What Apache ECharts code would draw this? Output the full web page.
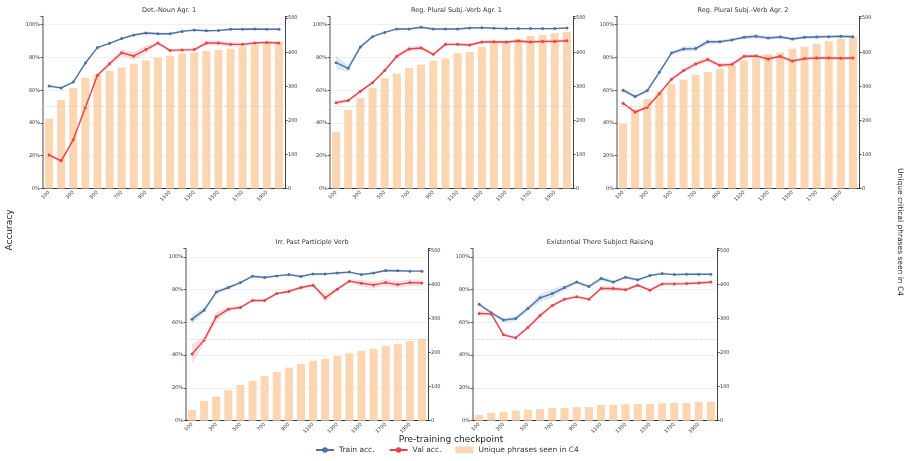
<!DOCTYPE html>
<html>
<head>
<meta charset="utf-8">
<script src="https://cdn.jsdelivr.net/npm/echarts@6/dist/echarts.min.js"></script>
<style>
    html, body { margin: 0; padding: 0; background: #fff; }
    #chart { width: 911px; height: 461px; }
</style>
</head>
<body>
<div id="chart"></div>
<script>
// checkpoints on the x axis
var checkpoints = ['100', '200', '300', '400', '500', '600', '700', '800', '900', '1000',
    '1100', '1200', '1300', '1400', '1500', '1600', '1700', '1800', '1900', '2000'];

var titles = ['Det.-Noun Agr. 1', 'Reg. Plural Subj.-Verb Agr. 1', 'Reg. Plural Subj.-Verb Agr. 2',
    'Irr. Past Participle Verb', 'Existential There Subject Raising'];

// train accuracy (%)
var train1 = [62.5, 61.4, 65, 76.6, 86, 88.6, 91.5, 93.7, 94.9, 94.5, 94.5, 95.9, 96.7, 96.3, 96.5, 97.2, 97.2, 97.4, 97.2, 97.2];
var train2 = [76.8, 73.4, 86.4, 92.7, 95.3, 97.4, 97.4, 98.4, 97.4, 97.4, 97.4, 98, 98.2, 97.8, 97.6, 97.6, 97.6, 97.6, 97.6, 98];
var train3 = [60, 56.1, 59.8, 70.9, 82.7, 85.2, 85.4, 89.6, 89.6, 90.7, 92.3, 92.9, 91.9, 92.5, 91.3, 92.3, 92.5, 92.7, 92.9, 92.7];
var train4 = [62, 67.5, 78.5, 81.3, 84.3, 88.2, 87.4, 88.4, 89.2, 88, 89.6, 89.6, 90.2, 90.7, 89.2, 90.2, 91.7, 91.5, 91.3, 91.3];
var train5 = [71.1, 65.9, 61.4, 62.4, 68.5, 75, 77.6, 81.3, 84.6, 81.9, 86.8, 84.6, 87.6, 86, 88.6, 89.8, 89.2, 89.4, 89.4, 89.4];

// val accuracy (%)
var val1 = [20.5, 16.9, 29.7, 49.4, 69.1, 76.2, 82.9, 80.9, 84.8, 88.8, 84.3, 84.6, 84.8, 88.8, 88.8, 88, 88, 88.8, 89.2, 88.8];
var val2 = [52.4, 53.7, 59.3, 64.6, 72, 80.7, 85.2, 85.8, 81.9, 88, 88, 87.6, 89.4, 89.6, 89.4, 90, 89.4, 89.8, 89.8, 90.2];
var val3 = [52, 46.7, 49.6, 57.9, 66.7, 72, 76, 78.7, 75.2, 75.8, 80.7, 80.9, 79.1, 80.7, 77.8, 79.3, 79.7, 79.7, 79.5, 79.7];
var val4 = [40.7, 49.2, 63.4, 68.1, 69.1, 73.4, 73.4, 77.6, 78.9, 81.3, 82.7, 75, 80.3, 85.2, 83.9, 82.9, 84.3, 83.1, 84.3, 84.1];
var val5 = [65.4, 65.2, 52.4, 50.6, 56.9, 64.2, 70.3, 74.2, 75.6, 74.2, 80.7, 80.7, 79.9, 82.7, 79.7, 83.5, 83.5, 83.7, 84.1, 84.6];

// half width of the shaded band around each line (%)
var trainSpread1 = [1, 0.6, 0.6, 0.6, 0.6, 0.6, 0.6, 0.6, 0.8, 0.8, 0.6, 0.6, 0.6, 0.6, 0.6, 0.6, 0.6, 0.6, 0.6, 0.6];
var trainSpread2 = [4, 2, 1, 0.6, 0.6, 0.6, 0.6, 0.6, 0.6, 0.6, 0.6, 0.6, 0.6, 0.6, 0.6, 0.6, 0.6, 0.6, 0.6, 0.6];
var trainSpread3 = [1.5, 1, 1, 1, 1, 1.5, 1.5, 1.5, 1, 1, 1, 1.5, 1, 1, 1, 1, 1, 1, 1, 1];
var trainSpread4 = [3, 1.5, 1, 1, 0.6, 0.6, 0.6, 0.6, 0.6, 0.6, 0.6, 0.6, 0.6, 0.6, 0.6, 0.6, 0.6, 0.6, 0.6, 0.6];
var trainSpread5 = [1, 1, 1.5, 1.5, 1.5, 2.5, 2.5, 1.5, 1, 1, 1.5, 1, 1, 1, 0.6, 0.6, 0.6, 0.6, 0.6, 0.6];
var valSpread1 = [1, 1, 1, 1, 1, 1.5, 2, 2.5, 2.5, 1, 1, 1, 1, 1.5, 1.5, 1.5, 1, 1, 1, 1];
var valSpread2 = [1.5, 1, 1, 1, 1, 1.5, 1.5, 1.5, 1, 1, 1, 1, 1, 1, 1, 1, 1, 1, 1, 1];
var valSpread3 = [1, 1, 1, 1, 1, 1.5, 1.5, 1.5, 1.5, 1.5, 1, 1.5, 1.5, 1, 1, 1, 1, 1, 1, 1];
var valSpread4 = [6, 2, 3, 1.5, 1, 1, 1, 1, 1, 1, 1, 2.5, 1, 1, 2, 2, 2, 2, 2, 2];
var valSpread5 = [2, 1, 1, 1, 1, 1.5, 1, 1, 1, 1, 1.5, 1.5, 1, 1, 1, 1, 1, 1, 1, 1];

// unique critical phrases seen in C4
var phrases1 = [205, 260, 295, 325, 335, 345, 355, 366, 376, 384, 390, 396, 399, 404, 407, 410, 417, 422, 427, 431];
var phrases2 = [167, 231, 266, 295, 324, 337, 354, 363, 374, 381, 397, 401, 416, 427, 433, 440, 448, 451, 456, 460];
var phrases3 = [190, 231, 263, 284, 307, 319, 333, 342, 351, 361, 376, 380, 395, 399, 410, 416, 425, 432, 440, 445];
var phrases4 = [31, 58, 71, 90, 105, 117, 131, 143, 156, 167, 176, 182, 190, 198, 205, 211, 220, 225, 234, 240];
var phrases5 = [17, 23, 26, 30, 32, 34, 37, 37, 40, 40, 46, 46, 48, 49, 49, 51, 52, 52, 55, 55];

var accTicks = [0, 20, 40, 60, 80, 100];
var phraseTicks = [0, 100, 200, 300, 400, 500];

var trains = [train1, train2, train3, train4, train5];
var vals = [val1, val2, val3, val4, val5];
var trainSpreads = [trainSpread1, trainSpread2, trainSpread3, trainSpread4, trainSpread5];
var valSpreads = [valSpread1, valSpread2, valSpread3, valSpread4, valSpread5];
var phrases = [phrases1, phrases2, phrases3, phrases4, phrases5];

var BLUE = '#4a72a8', RED = '#e0474c', PEACH = '#fbd6b2';
var FONT = 'DejaVu Sans';

// plot boxes in pixels
var boxes = [
    {left: 43, top: 16.5, width: 242, height: 172},
    {left: 330, top: 16.5, width: 243, height: 172},
    {left: 617, top: 16.5, width: 242, height: 172},
    {left: 186, top: 248.7, width: 242, height: 172},
    {left: 473, top: 248.7, width: 244, height: 172}
];

var grids = [], xAxes = [], yAxes = [], series = [], titleList = [];

var band = function (vals, spreads, idx, color, key) {
    var lower = vals.map(function (v, k) { return +(v - spreads[k]).toFixed(2); });
    var width = spreads.map(function (s) { return 2 * s; });
    series.push({
        type: 'line', stack: key + idx, xAxisIndex: idx, yAxisIndex: 2 * idx,
        data: lower, symbol: 'none', silent: true, lineStyle: {opacity: 0}, z: 2
    });
    series.push({
        type: 'line', stack: key + idx, xAxisIndex: idx, yAxisIndex: 2 * idx,
        data: width, symbol: 'none', silent: true, lineStyle: {opacity: 0},
        areaStyle: {color: color, opacity: 0.18}, z: 2
    });
};

boxes.forEach(function (b, i) {
    grids.push({left: b.left, top: b.top, width: b.width, height: b.height, containLabel: false});
    titleList.push({
        text: titles[i],
        left: b.left + b.width / 2, top: b.top - 14.5,
        textAlign: 'center',
        textStyle: {fontSize: 6.5, fontWeight: 'normal', color: '#333', fontFamily: FONT}
    });
    xAxes.push({
        type: 'category', gridIndex: i, data: checkpoints, boundaryGap: true,
        axisLine: {lineStyle: {color: '#333', width: 1}},
        axisTick: {alignWithLabel: true, interval: 1, length: 2.5, lineStyle: {color: '#333'}},
        axisLabel: {interval: 1, rotate: 45, fontSize: 5, color: '#333', margin: 3, fontFamily: FONT},
        splitLine: {show: false}
    });
    yAxes.push({
        type: 'value', gridIndex: i, position: 'left', min: 0, max: 105, interval: 20,
        axisLine: {show: true, lineStyle: {color: '#888', width: 1.5}},
        axisTick: {show: true, length: 2.5, lineStyle: {color: '#555'}},
        axisLabel: {
            fontSize: 5, color: '#333', margin: 3, fontFamily: FONT,
            formatter: function (v) { return accTicks.indexOf(v) >= 0 ? v + '%' : ''; }
        },
        splitLine: {show: true, showMaxLine: false, lineStyle: {color: '#ebebeb', width: 0.8}}
    });
    yAxes.push({
        type: 'value', gridIndex: i, position: 'right', min: 0, max: 505, interval: 100,
        axisLine: {show: true, lineStyle: {color: '#444', width: 1}},
        axisTick: {show: true, length: 2.5, lineStyle: {color: '#444'}},
        axisLabel: {
            fontSize: 5, color: '#333', margin: 3, fontFamily: FONT,
            formatter: function (v) { return phraseTicks.indexOf(v) >= 0 ? String(v) : ''; }
        },
        splitLine: {show: false}
    });

    series.push({
        name: 'Unique phrases seen in C4', type: 'bar', xAxisIndex: i, yAxisIndex: 2 * i + 1,
        data: phrases[i], barWidth: '66%', itemStyle: {color: PEACH}, z: 1
    });
    band(trains[i], trainSpreads[i], i, BLUE, 'tb');
    band(vals[i], valSpreads[i], i, RED, 'vb');
    series.push({
        name: 'Train acc.', type: 'line', xAxisIndex: i, yAxisIndex: 2 * i,
        data: trains[i], symbol: 'circle', symbolSize: 3,
        lineStyle: {color: BLUE, width: 1.4}, itemStyle: {color: BLUE}, z: 4,
        markLine: {
            silent: true, symbol: 'none', label: {show: false},
            lineStyle: {color: '#cfcfcf', type: 'dashed', width: 0.7},
            data: [{yAxis: 50}]
        }
    });
    series.push({
        name: 'Val acc.', type: 'line', xAxisIndex: i, yAxisIndex: 2 * i,
        data: vals[i], symbol: 'circle', symbolSize: 3,
        lineStyle: {color: RED, width: 1.4}, itemStyle: {color: RED}, z: 4
    });
});

var chart = echarts.init(document.getElementById('chart'), null, {renderer: 'canvas'});
chart.setOption({
    animation: false,
    backgroundColor: '#fff',
    textStyle: {fontFamily: FONT},
    title: titleList,
    grid: grids,
    xAxis: xAxes,
    yAxis: yAxes,
    legend: {
        top: 446, left: 315, padding: 0, itemGap: 14, itemWidth: 18, itemHeight: 7,
        textStyle: {fontSize: 7.5, color: '#333', fontFamily: FONT},
        data: [
            {name: 'Train acc.'},
            {name: 'Val acc.'},
            {name: 'Unique phrases seen in C4', icon: 'rect'}
        ]
    },
    graphic: [
        {type: 'text', x: 451, y: 440, style: {text: 'Pre-training checkpoint', fontSize: 9, fill: '#222', fontFamily: FONT, align: 'center', verticalAlign: 'middle'}},
        {type: 'text', x: 10, y: 230, rotation: Math.PI / 2, style: {text: 'Accuracy', fontSize: 9, fill: '#222', fontFamily: FONT, align: 'center', verticalAlign: 'middle'}},
        {type: 'text', x: 900, y: 232, rotation: -Math.PI / 2, style: {text: 'Unique critical phrases seen in C4', fontSize: 7.5, fill: '#222', fontFamily: FONT, align: 'center', verticalAlign: 'middle'}}
    ],
    series: series
});
</script>
</body>
</html>
